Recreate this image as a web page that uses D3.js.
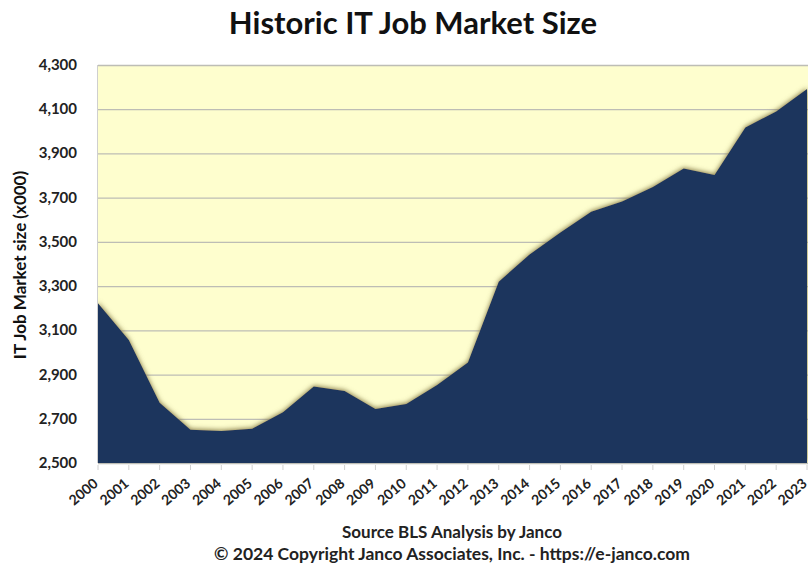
<!DOCTYPE html>
<html><head><meta charset="utf-8">
<script src="https://cdn.jsdelivr.net/npm/d3@7/dist/d3.min.js"></script>
<style>body{margin:0;background:#fff}svg{display:block}text{font-family:Lato,"Open Sans",sans-serif;font-weight:bold}</style>
</head><body><svg id="c" width="808" height="563"></svg>
<script>
const years = [2000,2001,2002,2003,2004,2005,2006,2007,2008,2009,2010,2011,2012,2013,2014,2015,2016,2017,2018,2019,2020,2021,2022,2023];
const jobs = [3222,3056,2773,2650,2645,2655,2730,2846,2826,2744,2767,2853,2955,3320,3443,3543,3636,3683,3748,3832,3803,4017,4090,4192];
const yTicks = [2500,2700,2900,3100,3300,3500,3700,3900,4100,4300];
const title = "Historic IT Job Market Size";
const yLabel = "IT Job Market size (x000)";
const source1 = "Source BLS Analysis  by Janco";
const source2 = "© 2024 Copyright Janco  Associates, Inc. - https://e-janco.com";

const svg = d3.select("#c");
const L=98,R=807,T=65,B=463;
const x = d3.scaleLinear().domain([2000,2023]).range([L,R]);
const y = d3.scaleLinear().domain([2500,4300]).range([B,T]);

const defs = svg.append("defs");
const f = defs.append("filter").attr("id","sh").attr("x","-10%").attr("y","-10%").attr("width","120%").attr("height","120%");
f.append("feGaussianBlur").attr("in","SourceAlpha").attr("stdDeviation",2.5).attr("result","b");
f.append("feOffset").attr("in","b").attr("dx",0).attr("dy",-1.5).attr("result","o");
f.append("feFlood").attr("flood-color","#857a45").attr("flood-opacity",0.95);
f.append("feComposite").attr("in2","o").attr("operator","in").attr("result","s");
const m=f.append("feMerge"); m.append("feMergeNode").attr("in","s"); m.append("feMergeNode").attr("in","SourceGraphic");
defs.append("clipPath").attr("id","cp").append("rect").attr("x",L).attr("y",T).attr("width",R-L+1).attr("height",B-T);

svg.append("rect").attr("x",L).attr("y",T).attr("width",808-L).attr("height",B-T).attr("fill","#FEFECE");
svg.append("g").selectAll("line").data(yTicks).join("line")
  .attr("x1",L).attr("x2",808).attr("y1",d=>y(d)+0.5).attr("y2",d=>y(d)+0.5)
  .attr("stroke","#BDBDB5").attr("stroke-width",1.3);
svg.append("line").attr("x1",L-0.5).attr("x2",L-0.5).attr("y1",T).attr("y2",B).attr("stroke","#CFCFCF");

const area = d3.area().x((d,i)=>x(years[i])).y0(B).y1(d=>y(d));
svg.append("g").attr("clip-path","url(#cp)").append("path").datum(jobs).attr("d",area)
  .attr("fill","#1B365D").attr("filter","url(#sh)");

// y axis labels
svg.append("g").selectAll("text").data(yTicks).join("text")
  .attr("x",77).attr("y",d=>y(d)+5).attr("text-anchor","end").attr("font-size",15).attr("fill","#222")
  .text(d3.format(","));
// x axis ticks
svg.append("g").selectAll("line").data(years).join("line")
  .attr("x1",d=>x(d)).attr("x2",d=>x(d)).attr("y1",B+2).attr("y2",B+7).attr("stroke","#D0D0D0");
svg.append("g").selectAll("text").data(years).join("text")
  .attr("transform",d=>`translate(${x(d)+1},${B+22}) rotate(-40)`)
  .attr("text-anchor","end")
  .attr("font-size",14).attr("fill","#222").text(d=>d);

svg.append("text").attr("x",413).attr("y",34).attr("text-anchor","middle").attr("font-size",31).attr("fill","#111").text(title);
svg.append("g").attr("transform","translate(26,265)").append("text").attr("transform","rotate(-90)")
  .attr("text-anchor","middle").attr("font-size",17).attr("fill","#111").text(yLabel);
svg.append("text").attr("x",452).attr("y",538).attr("text-anchor","middle").attr("font-size",17).attr("fill","#222").text(source1);
svg.append("text").attr("x",452).attr("y",560).attr("text-anchor","middle").attr("font-size",17.5).attr("fill","#222").text(source2);
</script></body></html>
